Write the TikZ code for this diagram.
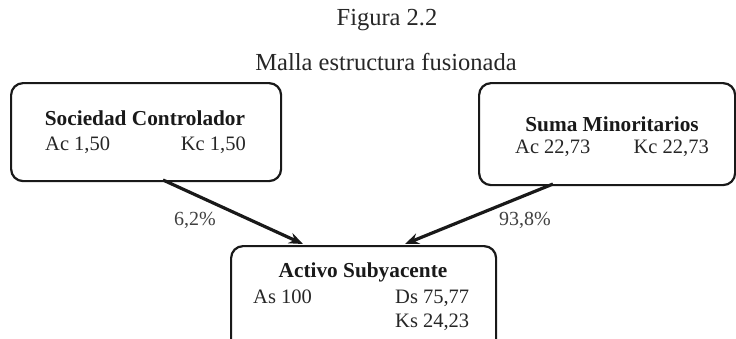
\documentclass[tikz,border=0pt]{standalone}
\usepackage{fontspec}
\setmainfont{Liberation Serif}
\usetikzlibrary{arrows.meta}
\begin{document}
\begin{tikzpicture}[x=1pt,y=-1pt,
  box/.style={draw=black!90, line width=2.2pt, rounded corners=12pt, inner sep=0pt, anchor=north west},
  ttl/.style={font=\fontsize{24.5}{26}\selectfont, text=black!85, inner sep=0pt},
  hd/.style={font=\bfseries\fontsize{21.3}{23}\selectfont, text=black!90, inner sep=0pt},
  tx/.style={font=\fontsize{20.5}{22}\selectfont, text=black!85, inner sep=0pt},
  arr/.style={draw=black!90, line width=3.2pt, -{Stealth[length=14pt,width=11pt]}},
  lbl/.style={font=\fontsize{20}{22}\selectfont, text=black!75, inner sep=0pt}]
\useasboundingbox (0,0) rectangle (736,338);
\clip (0,0) rectangle (736,338);
\node[ttl] (fig) at (387,20) {Figura 2.2};
\node[ttl] (sub) at (386,62) {Malla estructura fusionada};
% boxes
\node[box, minimum width=270pt, minimum height=98pt] (lb) at (10,82) {};
\node[box, minimum width=256pt, minimum height=102pt] (rb) at (478,82) {};
\node[box, minimum width=265pt, minimum height=110pt] (bb) at (230,245) {};
% left box text
\node[hd] (lbh) at (145,118) {Sociedad Controlador};
\node[tx, anchor=west] (lb1) at (45,145) {Ac 1,50};
\node[tx, anchor=east] (lb2) at (246,145) {Kc 1,50};
% right box text
\node[hd] (rbh) at (612,124) {Suma Minoritarios};
\node[tx, anchor=west] (rb1) at (515,148) {Ac 22,73};
\node[tx, anchor=east] (rb2) at (709,148) {Kc 22,73};
% bottom box text
\node[hd] (bbh) at (363,272) {Activo Subyacente};
\node[tx, anchor=west] (bb1) at (253,297) {As 100};
\node[tx, anchor=west] (bb2) at (395,298) {Ds 75,77};
\node[tx, anchor=west] (bb3) at (395,322) {Ks 24,23};
% arrows
\coordinate (a1s) at (163,180);
\coordinate (a1e) at (303,244);
\coordinate (a2s) at (553,184);
\coordinate (a2e) at (405,244);
\draw[arr] (a1s) -- (a1e);
\draw[arr] (a2s) -- (a2e);
\node[lbl] (l1) at (195,220) {6,2\%};
\node[lbl] (l2) at (525,220) {93,8\%};
\end{tikzpicture}
\end{document}
